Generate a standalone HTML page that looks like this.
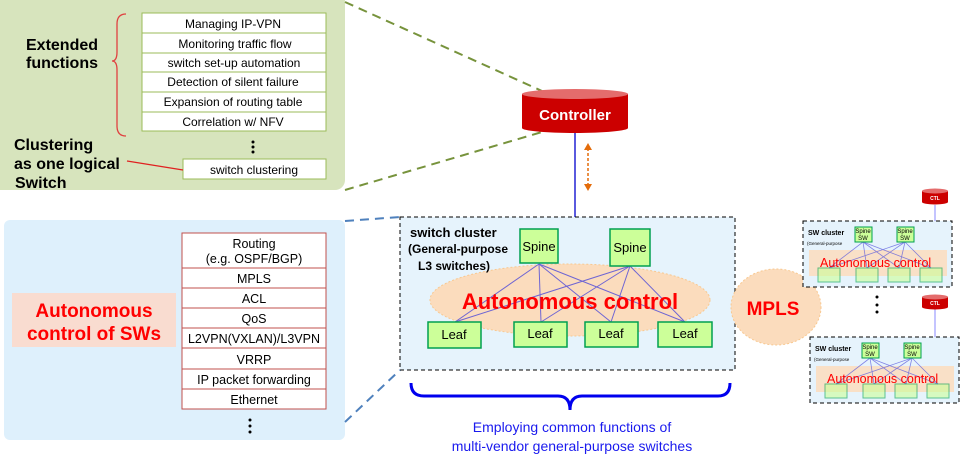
<!DOCTYPE html>
<html><head><meta charset="utf-8"><style>
html,body{margin:0;padding:0;background:#fff;width:963px;height:465px;overflow:hidden}
svg{display:block;font-family:"Liberation Sans",Arial,sans-serif}
</style></head><body>
<svg width="963" height="465" viewBox="0 0 963 465" xmlns="http://www.w3.org/2000/svg">
<defs>
<linearGradient id="cyl" x1="0" y1="0" x2="0" y2="1"><stop offset="0" stop-color="#d01010"/><stop offset="1" stop-color="#c00000"/></linearGradient>
</defs>
<!-- green panel -->
<rect x="-10" y="-10" width="355" height="200" rx="10" fill="#d7e4bd"/>
<!-- blue panel -->
<rect x="4" y="220" width="341" height="220" rx="6" fill="#def0fc"/>
<!-- connectors dashed -->
<g stroke="#77933c" stroke-width="2" stroke-dasharray="9,6" fill="none">
<line x1="345" y1="2" x2="542" y2="91"/>
<line x1="345" y1="190" x2="542" y2="132"/>
</g>
<g stroke="#4f81bd" stroke-width="2" stroke-dasharray="9,6" fill="none">
<line x1="345" y1="221" x2="400" y2="217"/>
<line x1="345" y1="422" x2="400" y2="370"/>
</g>
<!-- extended function table -->
<g font-size="12" fill="#000" text-anchor="middle">
<rect x="142" y="13" width="184" height="118" fill="#fff" stroke="#9bbb59"/>
<line x1="142" y1="33" x2="326" y2="33" stroke="#9bbb59"/>
<line x1="142" y1="53" x2="326" y2="53" stroke="#9bbb59"/>
<line x1="142" y1="72" x2="326" y2="72" stroke="#9bbb59"/>
<line x1="142" y1="92" x2="326" y2="92" stroke="#9bbb59"/>
<line x1="142" y1="112" x2="326" y2="112" stroke="#9bbb59"/>
<text x="233" y="28">Managing IP-VPN</text>
<text x="235" y="48">Monitoring traffic flow</text>
<text x="234" y="67">switch set-up automation</text>
<text x="233" y="86">Detection of silent failure</text>
<text x="233" y="106">Expansion of routing table</text>
<text x="233" y="126">Correlation  w/ NFV</text>
<rect x="183" y="159" width="143" height="20" fill="#fff" stroke="#9bbb59"/>
<text x="254" y="174">switch clustering</text>
</g>
<g fill="#000"><circle cx="253" cy="142" r="1.5"/><circle cx="253" cy="147" r="1.5"/><circle cx="253" cy="152" r="1.5"/></g>
<path d="M126 14 Q117 14 117 24 L117 52 Q117 61 112 61 Q117 61 117 70 L117 126 Q117 136 126 136" fill="none" stroke="#e04040" stroke-width="1.3"/>
<line x1="127" y1="161" x2="183" y2="170" stroke="#e02020" stroke-width="1.3"/>
<g font-size="16" font-weight="bold" fill="#000">
<text x="26" y="50">Extended</text>
<text x="26" y="68">functions</text>
<text x="14" y="150">Clustering</text>
<text x="14" y="169">as one logical</text>
<text x="15" y="188">Switch</text>
</g>
<!-- SW function table -->
<g font-size="12.5" fill="#000" text-anchor="middle">
<rect x="182" y="233" width="144" height="176" fill="#fff" stroke="#c0504d"/>
<g stroke="#c0504d">
<line x1="182" y1="268" x2="326" y2="268"/><line x1="182" y1="288" x2="326" y2="288"/>
<line x1="182" y1="308" x2="326" y2="308"/><line x1="182" y1="328" x2="326" y2="328"/>
<line x1="182" y1="348" x2="326" y2="348"/><line x1="182" y1="369" x2="326" y2="369"/>
<line x1="182" y1="389" x2="326" y2="389"/>
</g>
<text x="254" y="248">Routing</text>
<text x="254" y="263">(e.g. OSPF/BGP)</text>
<text x="254" y="283">MPLS</text>
<text x="254" y="303">ACL</text>
<text x="254" y="323">QoS</text>
<text x="254" y="343">L2VPN(VXLAN)/L3VPN</text>
<text x="254" y="364">VRRP</text>
<text x="254" y="384">IP packet forwarding</text>
<text x="254" y="404">Ethernet</text>
</g>
<g fill="#000"><circle cx="250" cy="420" r="1.5"/><circle cx="250" cy="426" r="1.5"/><circle cx="250" cy="432" r="1.5"/></g>
<rect x="12" y="293" width="164" height="54" fill="#f9dcd0"/>
<g font-size="19" font-weight="bold" fill="#ff0000" text-anchor="middle">
<text x="94" y="317">Autonomous</text>
<text x="94" y="340">control of SWs</text>
</g>
<!-- controller -->
<line x1="575" y1="132" x2="575" y2="217" stroke="#0000cc" stroke-width="1.3"/>
<line x1="588" y1="148" x2="588" y2="186" stroke="#e46c0a" stroke-width="1.5" stroke-dasharray="3,2"/>
<path d="M584 150 L588 143 L592 150Z M584 184 L588 191 L592 184Z" fill="#e46c0a"/>
<path d="M522 94 L522 128 A53 5 0 0 0 628 128 L628 94Z" fill="#cc0000"/>
<ellipse cx="575" cy="94" rx="53" ry="5" fill="#e46c6c"/>
<text x="575" y="120" font-size="15" font-weight="bold" fill="#fff" text-anchor="middle">Controller</text>
<!-- cluster -->
<rect x="400" y="217" width="335" height="153" fill="#e6f3fc" stroke="#000" stroke-dasharray="4,3"/>
<ellipse cx="570" cy="300" rx="140" ry="36" fill="#fbdcbd" stroke="#f8c890" stroke-dasharray="2,2"/>
<g stroke="#3333dd" stroke-width="1" opacity="0.7">
<line x1="539" y1="264" x2="455" y2="322"/><line x1="539" y1="264" x2="541" y2="322"/>
<line x1="539" y1="264" x2="611" y2="322"/><line x1="539" y1="264" x2="685" y2="322"/>
<line x1="630" y1="266" x2="455" y2="322"/><line x1="630" y1="266" x2="541" y2="322"/>
<line x1="630" y1="266" x2="611" y2="322"/><line x1="630" y1="266" x2="685" y2="322"/>
</g>
<text x="570" y="309" font-size="22" font-weight="bold" fill="#ff0000" text-anchor="middle">Autonomous control</text>
<g fill="#ccff99" stroke="#00a050" stroke-width="1.5">
<rect x="520" y="229" width="38" height="34"/><rect x="610" y="229" width="40" height="37"/>
<rect x="428" y="322" width="53" height="26"/><rect x="514" y="322" width="53" height="25"/>
<rect x="585" y="322" width="53" height="25"/><rect x="658" y="322" width="54" height="25"/>
</g>
<g font-size="13" fill="#000" text-anchor="middle">
<text x="539" y="251">Spine</text><text x="630" y="252">Spine</text>
<text x="454" y="339">Leaf</text><text x="540" y="338">Leaf</text>
<text x="611" y="338">Leaf</text><text x="685" y="338">Leaf</text>
</g>
<g font-size="12" font-weight="bold" fill="#000">
<text x="410" y="237" font-size="13">switch cluster</text>
<text x="408" y="253">(General-purpose</text>
<text x="418" y="270">L3 switches)</text>
</g>
<path d="M411 383 Q411 396 424 396 L558 396 Q570 396 570 410 Q570 396 582 396 L718 396 Q730 396 730 383" fill="none" stroke="#0000ee" stroke-width="3"/>
<g font-size="14" fill="#1a1aee" text-anchor="middle">
<text x="572" y="432">Employing common functions  of</text>
<text x="572" y="451">multi-vendor  general-purpose  switches</text>
</g>
<!-- MPLS -->
<ellipse cx="776" cy="307" rx="45" ry="38" fill="#fbdcbd" stroke="#f8c890" stroke-dasharray="2,2"/>
<rect x="803" y="221" width="149" height="66" fill="#e6f3fc" stroke="#000" stroke-dasharray="4,3"/>
<text x="773" y="315" font-size="19" font-weight="bold" fill="#ff0000" text-anchor="middle">MPLS</text>
<!-- small clusters -->
<g id="sc">
<rect x="803" y="221" width="149" height="66" fill="#e6f3fc" stroke="#000" stroke-dasharray="4,3"/>
<rect x="809" y="250" width="138" height="26" fill="#fbdcbd" opacity="0.85"/>
<g stroke="#5555dd" stroke-width="0.8" opacity="0.7">
<line x1="863" y1="242" x2="829" y2="268"/><line x1="863" y1="242" x2="867" y2="268"/>
<line x1="863" y1="242" x2="899" y2="268"/><line x1="863" y1="242" x2="931" y2="268"/>
<line x1="905" y1="242" x2="829" y2="268"/><line x1="905" y1="242" x2="867" y2="268"/>
<line x1="905" y1="242" x2="899" y2="268"/><line x1="905" y1="242" x2="931" y2="268"/>
</g>
<g fill="#ccff99" stroke="#00a050">
<rect x="855" y="227" width="17" height="15"/><rect x="897" y="227" width="17" height="15"/>
</g>
<g fill="#ccff99" stroke="#00a050" opacity="0.6">
<rect x="818" y="268" width="22" height="14"/><rect x="856" y="268" width="22" height="14"/>
<rect x="888" y="268" width="22" height="14"/><rect x="920" y="268" width="22" height="14"/>
</g>
<text x="808" y="235" font-size="7" font-weight="bold" fill="#000">SW cluster</text>
<text x="807" y="245" font-size="4.5" fill="#000">(General-purpose</text>
<g font-size="6" fill="#000" text-anchor="middle"><text x="863" y="233">Spine</text><text x="863" y="240">SW</text><text x="905" y="233">Spine</text><text x="905" y="240">SW</text></g>
<text x="820" y="267" font-size="12.5" fill="#ff0000">Autonomous  control</text>
</g>
<use href="#sc" transform="translate(7,116)"/>
<!-- CTL -->
<line x1="935" y1="205" x2="935" y2="221" stroke="#8888ff"/>
<line x1="935" y1="309" x2="935" y2="337" stroke="#8888ff"/>
<g>
<path d="M922 191 L922 202 A13 2.5 0 0 0 948 202 L948 191Z" fill="#cc0000"/>
<ellipse cx="935" cy="191" rx="13" ry="2.5" fill="#e46c6c"/>
<text x="935" y="200" font-size="5" font-weight="bold" fill="#fff" text-anchor="middle">CTL</text>
<path d="M922 297 L922 307 A13 2.5 0 0 0 948 307 L948 297Z" fill="#cc0000"/>
<ellipse cx="935" cy="297" rx="13" ry="2.5" fill="#e46c6c"/>
<text x="935" y="305" font-size="5" font-weight="bold" fill="#fff" text-anchor="middle">CTL</text>
</g>
<g fill="#000"><circle cx="877" cy="297" r="1.5"/><circle cx="877" cy="305" r="1.5"/><circle cx="877" cy="312" r="1.5"/></g>
</svg>
</body></html>
